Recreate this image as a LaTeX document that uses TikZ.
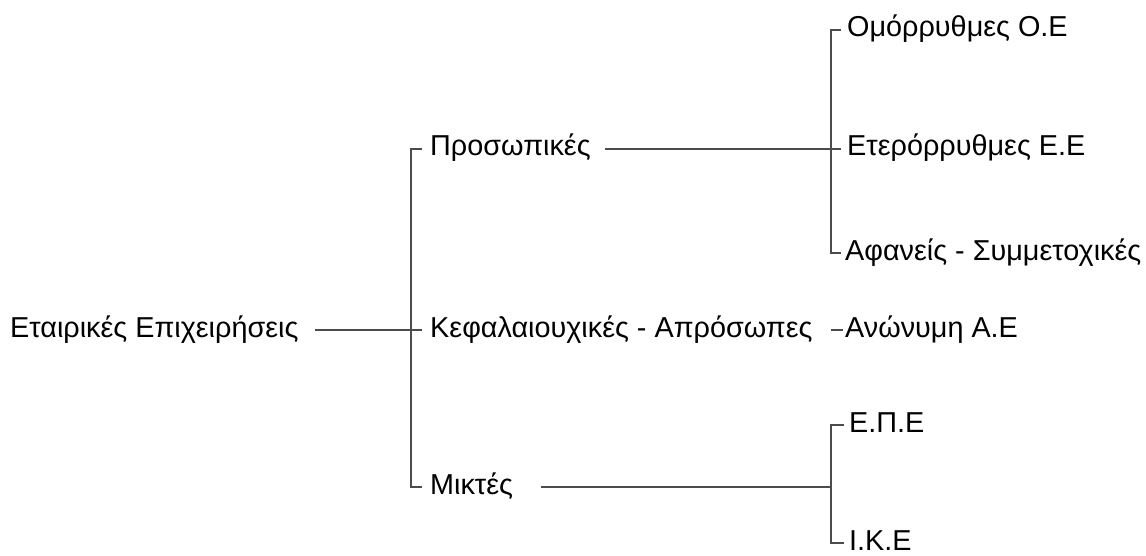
\documentclass[tikz,border=0pt]{standalone}
\usepackage{fontspec}
\setmainfont{Liberation Sans}
\begin{document}
\begin{tikzpicture}[x=1pt, y=-1pt,
    every node/.style={anchor=base west, inner sep=0pt, font=\fontsize{28.8}{32}\selectfont},
    conn/.style={draw=black!70, line width=1.1pt}]
  \useasboundingbox (0,0) rectangle (1146,556);
  % level 1
  \node (etair) at (10,337) {Εταιρικές Επιχειρήσεις};
  % level 2
  \node (pros) at (430,156) {Προσωπικές};
  \node (kef) at (430,337) {Κεφαλαιουχικές - Απρόσωπες};
  \node (mikt) at (430,494) {Μικτές};
  % level 3
  \node (omo) at (847,37) {Ομόρρυθμες Ο.Ε};
  \node (ete) at (847,156) {Ετερόρρυθμες Ε.Ε};
  \node (afa) at (845,260) {Αφανείς - Συμμετοχικές};
  \node (anon) at (845,337) {Ανώνυμη Α.Ε};
  \node (epe) at (849,432) {Ε.Π.Ε};
  \node (ike) at (849,550) {Ι.Κ.Ε};

  \coordinate (j1) at (411,330);
  \coordinate (j3) at (831,487);

  \draw[conn] ([shift={(16,-7)}]etair.base east) -- (j1);
  \draw[conn] ([shift={(-8,-7)}]pros.base west) -- ++(-11,0) |- ([shift={(-8,-7)}]mikt.base west);
  \draw[conn] (j1) -- ([shift={(-8,-7)}]kef.base west);

  \draw[conn] ([shift={(-6,-7)}]omo.base west) -- ++(-10,0) |- ([shift={(-4,-7)}]afa.base west);
  \draw[conn] ([shift={(14,-7)}]pros.base east) -- ([shift={(-6,-7)}]ete.base west);
  \draw[conn] ([shift={(-2,-7)}]anon.base west) -- ++(-12,0);

  \draw[conn] ([shift={(-5,-7)}]epe.base west) -- ++(-13,0) |- ([shift={(-5,-7)}]ike.base west);
  \draw[conn] ([shift={(28,-7)}]mikt.base east) -- (j3);
\end{tikzpicture}
\end{document}
